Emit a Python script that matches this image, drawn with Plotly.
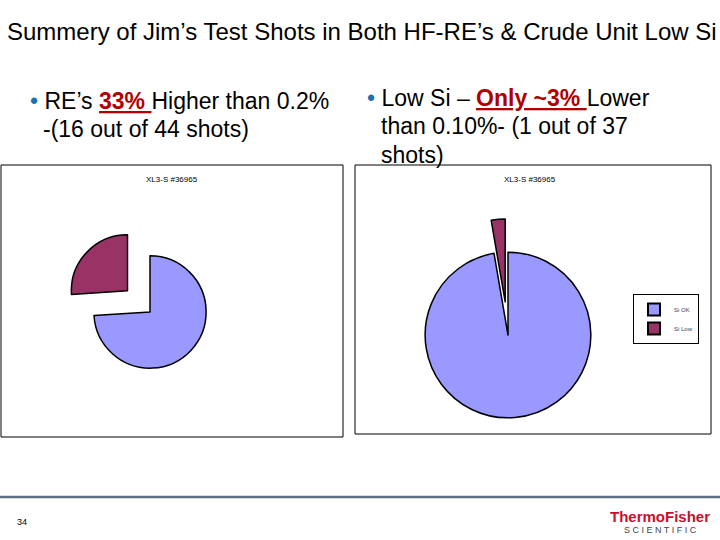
import plotly.graph_objects as go

# Left pie: RE's above 0.2 %
re_labels = ["Si OK", "Si Low"]
re_values = [74, 26]
# Right pie: low Si
si_labels = ["Si OK", "Si Low"]
si_values = [36, 1]

colors = ["#9999ff", "#993366"]
W, H = 720, 540


def dom(cx, cy, half):
    return dict(x=[(cx - half) / W, (cx + half) / W],
                y=[1 - (cy + half) / H, 1 - (cy - half) / H])


fig = go.Figure()
fig.add_trace(go.Pie(
    labels=re_labels, values=re_values, sort=False, direction="clockwise", rotation=0,
    pull=[0, 0.55], marker=dict(colors=colors, line=dict(color="#000000", width=1.5)),
    textinfo="none", hoverinfo="label+value", showlegend=False,
    domain=dom(150, 312, 87),
))
fig.add_trace(go.Pie(
    labels=si_labels, values=si_values, sort=False, direction="clockwise", rotation=0,
    pull=[0, 0.4], marker=dict(colors=colors, line=dict(color="#000000", width=1.5)),
    textinfo="none", hoverinfo="label+value",
    domain=dom(508, 335, 116),
))

shapes = [
    dict(type="rect", xref="paper", yref="paper", x0=1/W, x1=343/W, y0=1-437/H, y1=1-165/H,
         line=dict(color="black", width=1)),
    dict(type="rect", xref="paper", yref="paper", x0=355/W, x1=711/W, y0=1-434/H, y1=1-165/H,
         line=dict(color="black", width=1)),
    dict(type="line", xref="paper", yref="paper", x0=0, x1=1, y0=1-497/H, y1=1-497/H,
         line=dict(color="#5b7083", width=2.5)),
]

font = "Liberation Sans, Arial, sans-serif"
red = "<span style='color:#b00000'><b><u>{}</u></b></span>"
ann = [
    dict(x=5, y=32, text="Summery of Jim’s Test Shots in Both HF-RE’s & Crude Unit Low Si",
         size=24, xanchor="left"),
    dict(x=28, y=101, text="<span style='color:#1f6fb5'>•</span> RE’s " + red.format("33% ") + "Higher than 0.2%",
         size=23, xanchor="left"),
    dict(x=41, y=129, text="-(16 out of 44 shots)", size=23, xanchor="left"),
    dict(x=365, y=98, text="<span style='color:#1f6fb5'>•</span> Low Si – " + red.format("Only ~3% ") + "Lower",
         size=23, xanchor="left"),
    dict(x=379, y=126, text="than 0.10%- (1 out of 37", size=23, xanchor="left"),
    dict(x=379, y=155, text="shots)", size=23, xanchor="left"),
    dict(x=172, y=179, text="XL3-S #36965", size=8, xanchor="center"),
    dict(x=530, y=179, text="XL3-S #36965", size=8, xanchor="center"),
    dict(x=22, y=522, text="34", size=9, xanchor="center"),
    dict(x=660, y=516, text="<b>ThermoFisher</b>", size=15, xanchor="center", color="#c8102e"),
    dict(x=660, y=530, text="S C I E N T I F I C", size=9, xanchor="center", color="#444444"),
]
annotations = []
for a in ann:
    annotations.append(dict(
        x=a["x"] / W, y=1 - a["y"] / H, xref="paper", yref="paper", showarrow=False,
        text=a["text"], xanchor=a["xanchor"], yanchor="middle",
        font=dict(family=font, size=a["size"], color=a.get("color", "#000000")),
    ))

fig.update_layout(
    width=W, height=H, margin=dict(l=0, r=0, t=0, b=0),
    paper_bgcolor="white", plot_bgcolor="white",
    shapes=shapes, annotations=annotations,
    legend=dict(x=633/W, y=1-294/H, xanchor="left", yanchor="top",
                bordercolor="black", borderwidth=1, bgcolor="white",
                font=dict(family=font, size=6), itemwidth=30,
                tracegroupgap=0, itemsizing="constant"),
)

fig.write_html("out.html", config={"displayModeBar": False},
               post_script="document.body.style.margin='0';")
